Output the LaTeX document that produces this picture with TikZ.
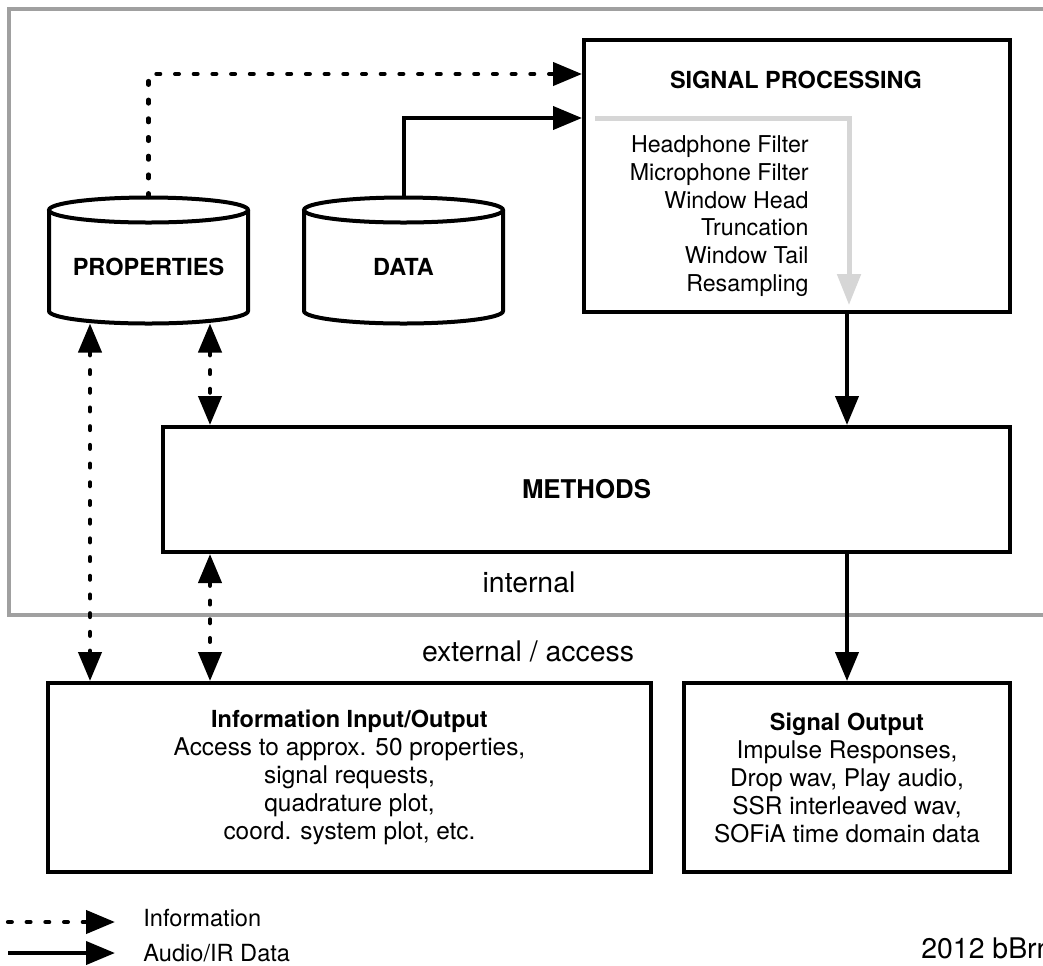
\documentclass[tikz,border=0pt]{standalone}
\usepackage{fontspec}
\setmainfont{TeX Gyre Heros}
\usetikzlibrary{arrows.meta}
\definecolor{framegray}{HTML}{A0A0A0}
\definecolor{flowgray}{HTML}{D6D6D6}
\tikzset{
  box/.style={draw, line width=2pt, rectangle, inner sep=0pt, align=center,
              font=\fontsize{12.2}{14}\selectfont},
  title/.style={font=\fontsize{11.75}{14}\selectfont\bfseries},
  cyl/.style={draw, line width=2pt, fill=white},
  tipA/.tip={Triangle[length=14.5pt,width=11.5pt]},
  audio/.style={line width=2pt, -tipA},
  info/.style={line width=2.1pt, line cap=round, dash pattern=on 1.9pt off 7.45pt, -tipA},
  infoboth/.style={info, tipA-tipA},
  flow/.style={draw=flowgray, line width=2.5pt, -{Triangle[length=15.5pt,width=11.5pt]}},
  plain/.style={font=\fontsize{11.8}{14}\selectfont, inner sep=0pt},
  big/.style={font=\fontsize{14.2}{16}\selectfont, inner sep=0pt},
}
\begin{document}
\begin{tikzpicture}[x=0.5pt, y=-0.5pt]
  % page
  \fill[white] (0,0) rectangle (1043,965);
  \useasboundingbox (0,0) rectangle (1043,965);

  % internal area frame
  \draw[draw=framegray, line width=2pt] (9,9) rectangle (1090,615);

  % PROPERTIES cylinder
  \draw[cyl] (49,210) -- (49,311)
    arc[start angle=180, end angle=360, x radius=49.75pt, y radius=6.25pt] -- (248,210);
  \draw[cyl] (148.5,210) ellipse[x radius=49.75pt, y radius=6.25pt];
  \node[inner sep=0pt, outer sep=0pt, minimum width=99.5pt, minimum height=63.5pt] (props) at (148.5,260.5) {};
  \node[title] (propslabel) at (148.5,267) {PROPERTIES};

  % DATA cylinder
  \draw[cyl] (304,210) -- (304,311)
    arc[start angle=180, end angle=360, x radius=49.75pt, y radius=6.25pt] -- (503,210);
  \draw[cyl] (403.5,210) ellipse[x radius=49.75pt, y radius=6.25pt];
  \node[inner sep=0pt, outer sep=0pt, minimum width=99.5pt, minimum height=63.5pt] (data) at (403.5,260.5) {};
  \node[title] (datalabel) at (403.5,267) {DATA};

  % signal processing block
  \node[box, minimum width=213pt, minimum height=136pt] (sp) at (797,176) {};
  \node[title] (sptitle) at (796,80) {SIGNAL PROCESSING};
  \coordinate (gs) at (595,118);
  \coordinate (gc) at (849,118);
  \coordinate (ge) at (849,305);
  \draw[flow] (gs) -- (gc) -- (ge);
  \node[font=\fontsize{11.6}{13.85}\selectfont, align=right, anchor=east, inner sep=0pt] (steps) at (809,216)
    {Headphone Filter\\Microphone Filter\\Window Head\\Truncation\\Window Tail\\Resampling};

  % methods
  \node[box, minimum width=423.5pt, minimum height=62.5pt, font=\fontsize{12.9}{15}\selectfont\bfseries] (meth) at (586.5,489.5) {METHODS};

  % external blocks
  \node[box, minimum width=301.5pt, minimum height=94.5pt] (info) at (349.5,777.5)
    {{\fontsize{11.75}{14}\selectfont\bfseries Information Input/Output}\\Access to approx. 50 properties,\\signal requests,\\quadrature plot,\\coord. system plot, etc.};
  \node[box, minimum width=163pt, minimum height=94.5pt] (sout) at (847,777.5)
    {{\fontsize{11.75}{14}\selectfont\bfseries Signal Output}\\Impulse Responses,\\Drop wav, Play audio,\\SSR interleaved wav,\\SOFiA time domain data};

  % area labels
  \node[big] (internal) at (529,582) {internal};
  \node[big] (external) at (528,651) {external / access};

  % connectors
  \draw[info] (props.north) |- ([yshift=-18pt]sp.north west);
  \draw[audio] (data.north) |- ([yshift=-40pt]sp.north west);
  \draw[audio] (sp.south -| sout.north) -- (meth.north -| sout.north);
  \draw[audio] (meth.south -| sout.north) -- (sout.north);
  \coordinate (pa) at (90,323.5);
  \coordinate (pb) at (210,323.5);
  \draw[infoboth] (pa) -- (pa |- info.north);
  \draw[infoboth] (pb) -- (pb |- meth.north);
  \draw[infoboth] (pb |- meth.south) -- (pb |- info.north);

  % legend
  \coordinate (l1a) at (8,922);
  \coordinate (l1b) at (115,922);
  \coordinate (l2a) at (8,953);
  \coordinate (l2b) at (115,953);
  \draw[info] (l1a) -- (l1b);
  \draw[audio] (l2a) -- (l2b);
  \node[plain, anchor=west] (l1t) at (143,918) {Information};
  \node[plain, anchor=west] (l2t) at (143,953) {Audio/IR Data};

  % credit line
  \node[big, anchor=west] (credit) at (921,948) {2012 bBrn};
\end{tikzpicture}
\end{document}
